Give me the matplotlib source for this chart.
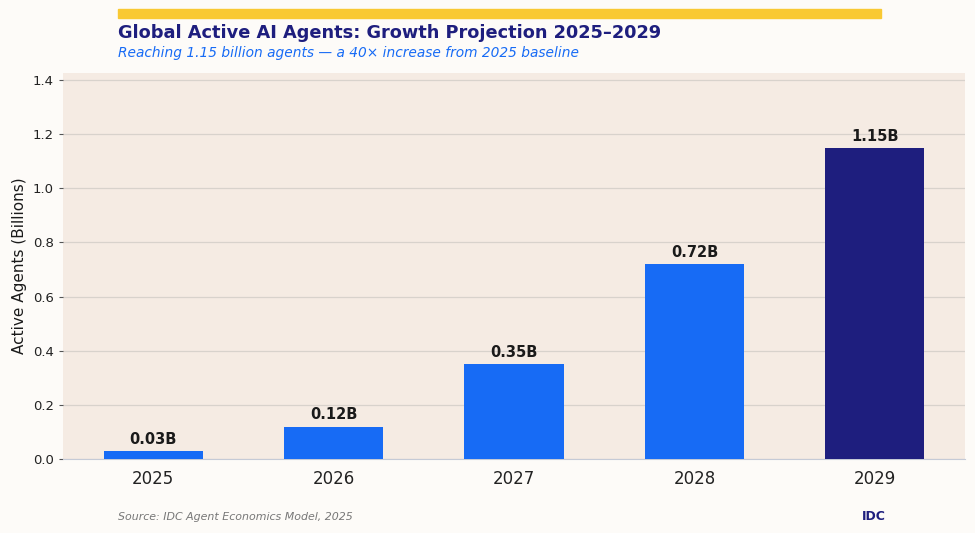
import matplotlib.pyplot as plt
import numpy as np

years = ["2025", "2026", "2027", "2028", "2029"]
agents = [0.03, 0.12, 0.35, 0.72, 1.15]
labels = ["0.03B", "0.12B", "0.35B", "0.72B", "1.15B"]

blue = "#176BF5"
navy = "#1E1E7E"
colors = [blue, blue, blue, blue, navy]

fig = plt.figure(figsize=(9.75, 5.33), dpi=100)
fig.patch.set_facecolor("#FDFBF8")
ax = fig.add_axes([63 / 975, 1 - 459 / 533, 902 / 975, 386 / 533])
ax.set_facecolor("#F5EBE3")

x = np.arange(len(years))
ax.bar(x, agents, width=0.55, color=colors, zorder=3)
for xi, v, lab in zip(x, agents, labels):
    ax.text(xi, v + 0.015, lab, ha="center", va="bottom", fontsize=10.5,
            fontweight="bold", color="#1a1a1a", zorder=4)

ax.set_xlim(-0.5, 4.5)
ax.set_ylim(0, 1.15 * 1.24)
ax.set_yticks(np.arange(0, 1.41, 0.2))
ax.set_xticks(x)
ax.set_xticklabels(years, fontsize=12, color="#222222")
ax.tick_params(axis="y", labelsize=9.5, length=3, color="#555555", labelcolor="#222222")
ax.tick_params(axis="x", length=0, pad=8)
ax.yaxis.grid(True, color="#D8D2CC", linewidth=0.9, zorder=0)
ax.set_axisbelow(True)
for s in ["top", "right", "left"]:
    ax.spines[s].set_visible(False)
ax.spines["bottom"].set_color("#C5CAD6")
ax.set_ylabel("Active Agents (Billions)", fontsize=11, color="#1a1a1a")

# header band and titles
fig.patches.append(plt.Rectangle((118 / 975, 1 - 18 / 533), 763 / 975, 9 / 533,
                                 transform=fig.transFigure, color="#F9C933"))
fig.text(118 / 975, 1 - 33 / 533, "Global Active AI Agents: Growth Projection 2025–2029",
         fontsize=12.8, fontweight="bold", color=navy, va="center")
fig.text(118 / 975, 1 - 53 / 533, "Reaching 1.15 billion agents — a 40× increase from 2025 baseline",
         fontsize=9.9, style="italic", color=blue, va="center")
fig.text(118 / 975, 1 - 517 / 533, "Source: IDC Agent Economics Model, 2025",
         fontsize=7.9, style="italic", color="#777777", va="center")
fig.text(874 / 975, 1 - 517 / 533, "IDC", fontsize=9, fontweight="bold",
         color=navy, va="center", ha="center")

fig.savefig("out.png", dpi=100, facecolor=fig.get_facecolor())
